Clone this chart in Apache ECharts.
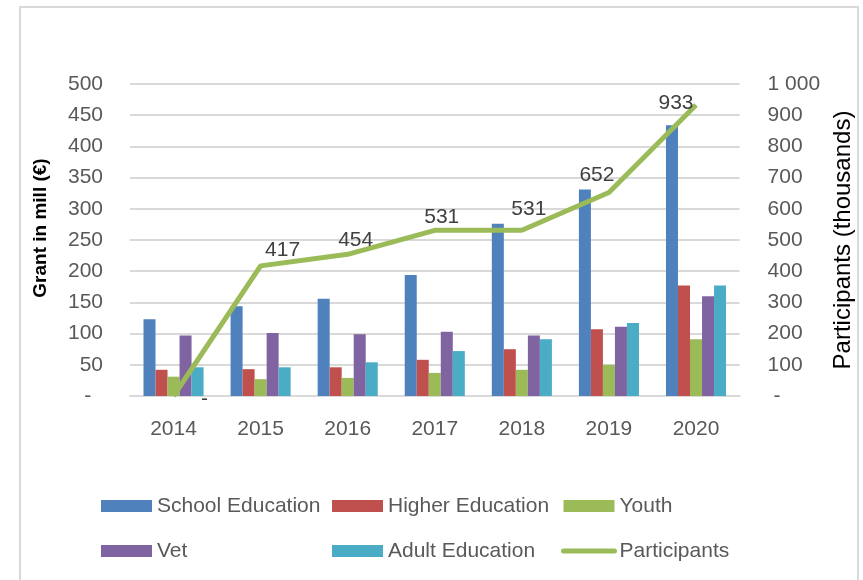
<!DOCTYPE html>
<html>
<head>
<meta charset="utf-8">
<script src="https://cdn.jsdelivr.net/npm/echarts@6/dist/echarts.min.js"></script>
<style>
  html, body { margin: 0; padding: 0; background: #fff; }
  #main { width: 863px; height: 580px; }
</style>
</head>
<body>
<div id="main"></div>
<script>
// data
var years = ['2014', '2015', '2016', '2017', '2018', '2019', '2020'];
var school = [123, 144, 156, 194, 276, 331, 434];
var higher = [42, 43, 46, 58, 75, 107, 177];
var youth = [31, 27, 29, 37, 42, 50, 91];
var vet = [97, 101, 99, 103, 97, 111, 160];
var adult = [46, 46, 54, 72, 91, 117, 177];
var participants = [0, 417, 454, 531, 531, 652, 933];

// where each participants label sits relative to its point
var labelOffsets = [[31, 19], [22, 0], [8, 2], [7, 3], [7, -5], [-12, -1], [-20, 14]];

var font = 'Liberation Sans';
var colors = ['#4F81BD', '#C0504D', '#9BBB59', '#8064A2', '#4BACC6'];

function spaced(v) {
    return String(v).replace(/\B(?=(\d{3})+(?!\d))/g, ' ');
}

var myChart = echarts.init(document.getElementById('main'));

function barSeries(name, values, color) {
    return {
        name: name,
        type: 'bar',
        data: values,
        barGap: 0,
        barCategoryGap: '31%',
        itemStyle: { color: color },
        emphasis: { disabled: true }
    };
}

var legendText = { fontFamily: font, fontSize: 21, color: '#595959', lineHeight: 22 };
function legendCol(left, names) {
    return {
        orient: 'vertical',
        left: left,
        top: 495,
        padding: 0,
        itemWidth: 51,
        itemHeight: 12,
        itemGap: 23,
        textStyle: legendText,
        data: names,
        selectedMode: false
    };
}

var option = {
    animation: false,
    color: colors,
    graphic: [{
        type: 'rect',
        shape: { x: 20, y: 7, width: 838, height: 600 },
        style: { fill: 'none', stroke: '#d9d9d9', lineWidth: 2 },
        silent: true
    }],
    grid: { left: 130, right: 123, top: 84, bottom: 184 },
    legend: [
        legendCol(101, [{ name: 'School Education', icon: 'rect' }, { name: 'Vet', icon: 'rect' }]),
        legendCol(332, [{ name: 'Higher Education', icon: 'rect' }, { name: 'Adult Education', icon: 'rect' }]),
        legendCol(561, [{ name: 'Youth', icon: 'rect' }, {
            name: 'Participants',
            itemStyle: { opacity: 0 },
            lineStyle: { width: 5, color: '#9BBB59', cap: 'round' }
        }])
    ],
    xAxis: {
        type: 'category',
        data: years,
        axisLine: { lineStyle: { color: '#d9d9d9', width: 2 } },
        axisTick: { show: false },
        axisLabel: { fontFamily: font, fontSize: 21, color: '#595959', margin: 23 }
    },
    yAxis: [{
        type: 'value',
        min: 0,
        max: 500,
        interval: 50,
        name: 'Grant in mill (€)',
        nameLocation: 'middle',
        nameGap: 80,
        nameTextStyle: { fontFamily: font, fontSize: 19, fontWeight: 'bold', color: '#000', padding: [0, 0, 0, 24] },
        axisLine: { show: false },
        axisTick: { show: false },
        splitLine: { lineStyle: { color: '#d9d9d9', width: 2 } },
        axisLabel: {
            fontFamily: font, fontSize: 21, color: '#595959', margin: 27,
            formatter: function (v) { return v === 0 ? '-  ' : spaced(v); }
        }
    }, {
        type: 'value',
        min: 0,
        max: 1000,
        interval: 100,
        name: 'Participants (thousands)',
        nameLocation: 'middle',
        nameGap: 90,
        nameTextStyle: { fontFamily: font, fontSize: 24, color: '#000' },
        axisLine: { show: false },
        axisTick: { show: false },
        splitLine: { show: false },
        axisLabel: {
            fontFamily: font, fontSize: 21, color: '#595959', margin: 28,
            formatter: function (v) { return v === 0 ? ' -' : spaced(v); }
        }
    }],
    series: [
        barSeries('School Education', school, colors[0]),
        barSeries('Higher Education', higher, colors[1]),
        barSeries('Youth', youth, colors[2]),
        barSeries('Vet', vet, colors[3]),
        barSeries('Adult Education', adult, colors[4]),
        {
            name: 'Participants',
            type: 'line',
            yAxisIndex: 1,
            symbol: 'circle',
            symbolSize: 1,
            showSymbol: true,
            z: 5,
            lineStyle: { color: '#9BBB59', width: 5 },
            itemStyle: { color: 'rgba(155,187,89,0)' },
            emphasis: { disabled: true },
            data: participants.map(function (v, i) {
                return { value: v, label: { offset: labelOffsets[i] } };
            }),
            label: {
                show: true,
                position: 'top',
                fontFamily: font,
                fontSize: 21,
                color: '#404040',
                formatter: function (p) { return p.value === 0 ? '-' : spaced(p.value); }
            }
        }
    ]
};

myChart.setOption(option);
</script>
</body>
</html>
